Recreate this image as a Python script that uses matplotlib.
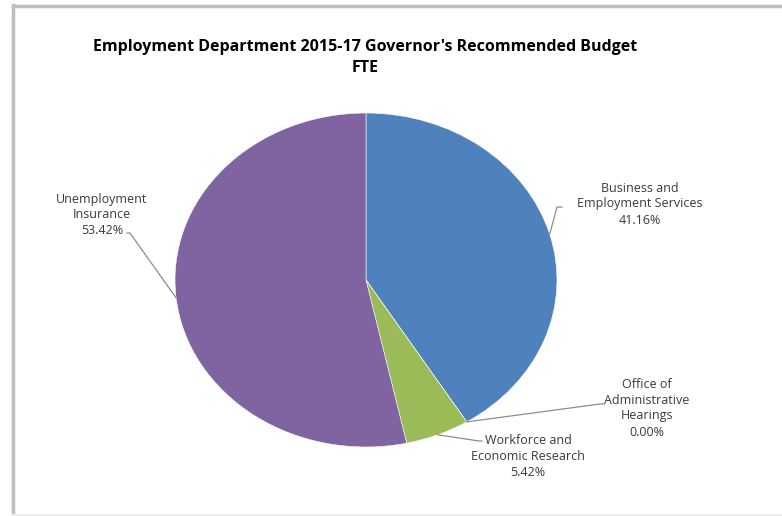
import matplotlib
matplotlib.use("Agg")
import matplotlib.pyplot as plt
import numpy as np
from matplotlib.lines import Line2D

# FTE share by program area (percent), clockwise from 12 o'clock
programs = ["Business and\nEmployment Services",
            "Office of\nAdministrative\nHearings",
            "Workforce and\nEconomic Research",
            "Unemployment\nInsurance"]
fte_share = [41.16, 0.00, 5.42, 53.42]
colors = ["#4F81BD", "#C0504D", "#9BBB59", "#8064A2"]

W, H = 782, 516
CX, CY, RX, RY = 366, 280, 191, 167   # pie centre / radii in pixels

fig = plt.figure(figsize=(W / 100, H / 100), dpi=100)
fig.patch.set_facecolor("white")

ax = fig.add_axes([(CX - RX) / W, (H - CY - RY) / H, 2 * RX / W, 2 * RY / H])
wedges, _ = ax.pie(fte_share, colors=colors, startangle=90, counterclock=False,
                   radius=1.0, wedgeprops=dict(edgecolor="white", linewidth=0.4))
ax.set_aspect("auto")
ax.set_xlim(-1, 1)
ax.set_ylim(-1, 1)
ax.axis("off")


def px(x, y):
    """pixel position -> pie data coords"""
    return (x - CX) / RX, (CY - y) / RY


# label text centre and leader-line elbow (pixels)
label_pos = [(640, 204), (647, 408), (528, 456), (102, 215)]
elbows = [[(557, 207), (562, 207)],
          [(600, 404), (604, 404)],
          [(479, 441), (482, 441)],
          [(130, 233), (127, 233)]]

cum = np.cumsum([0] + fte_share)
for name, val, (lx, ly), elb, a0, a1 in zip(programs, fte_share, label_pos,
                                              elbows, cum[:-1], cum[1:]):
    mid = np.deg2rad(90 - (a0 + a1) / 2 * 3.6)
    pts = [(np.cos(mid), np.sin(mid))] + [px(*p) for p in elb]
    xs, ys = zip(*pts)
    ax.add_line(Line2D(xs, ys, color="#8C8C8C", lw=0.9, clip_on=False))
    tx, ty = px(lx, ly)
    ax.text(tx, ty, f"{name}\n{val:.2f}%", ha="center", va="center",
            multialignment="center", fontsize=9, color="#3A3A3A",
            family="Open Sans", linespacing=1.3, clip_on=False)

title_kw = dict(ha="center", va="center", fontsize=11.5, fontweight="bold",
                family="Open Sans", color="black")
fig.text(365 / W, 1 - 47 / H,
         "Employment Department 2015-17 Governor's Recommended Budget", **title_kw)
fig.text(365 / W, 1 - 68 / H, "FTE", **title_kw)

# chart frame
fig.add_artist(Line2D([13 / W, 13 / W], [0, 1 - 5 / H], color="#BFBFBF",
                      lw=2.5, transform=fig.transFigure))
fig.add_artist(Line2D([13 / W, 1], [1 - 5.5 / H, 1 - 5.5 / H], color="#BFBFBF",
                      lw=2.5, transform=fig.transFigure))
fig.add_artist(Line2D([13 / W, 1], [1.5 / H, 1.5 / H], color="#EBEBEB",
                      lw=1.5, transform=fig.transFigure))

fig.savefig("out.png", dpi=100)
